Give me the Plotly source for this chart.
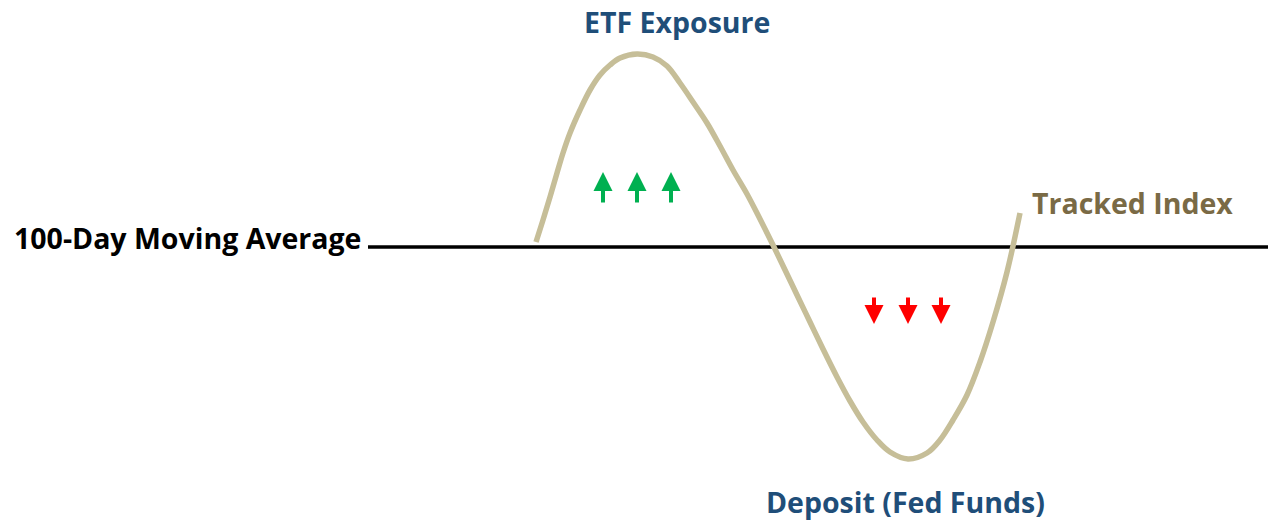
import plotly.graph_objects as go

# Curve (pixel-space coordinates: x to the right, y downward)
curve_x = [536, 543, 550, 557, 563, 570, 580, 590, 600, 610, 620, 637, 653, 667, 680, 693,
           707, 720, 733, 747, 760, 774, 786, 797, 810, 823, 837, 850, 863, 877, 890, 908,
           927, 940, 953, 967, 980, 993, 1007, 1020]
curve_y = [242, 220, 197, 173, 153, 133, 110, 90, 75, 65, 58, 54, 57, 66, 83, 102,
           123, 146, 170, 194, 219, 247, 272, 295, 322, 349, 377, 401, 422, 440, 452, 459,
           453, 440, 420, 395, 362, 322, 272, 213]

ma_x = [368, 1268]
ma_y = [247, 247]

up_arrow_x = [603, 637, 671]
up_tail_y = 204
up_tip_y = 172
down_arrow_x = [874, 908, 941]
down_tail_y = 296
down_tip_y = 324

labels = ["100-Day Moving Average", "ETF Exposure", "Tracked Index", "Deposit (Fed Funds)"]
label_x = [187, 677, 1132, 905]
label_y = [238, 22, 203, 502]
label_colors = ["#000000", "#1F4E79", "#7A6A45", "#1F4E79"]

FONT = "Open Sans"

fig = go.Figure()
fig.add_trace(go.Scatter(x=ma_x, y=ma_y, mode="lines",
                         line=dict(color="#000000", width=3.5), hoverinfo="skip"))
fig.add_trace(go.Scatter(x=curve_x, y=curve_y, mode="lines",
                         line=dict(color="#C6BE98", width=5.5, shape="spline", smoothing=1.0),
                         hoverinfo="skip"))

for xv in up_arrow_x:
    fig.add_annotation(x=xv, y=up_tip_y, ax=xv, ay=up_tail_y, xref="x", yref="y",
                       axref="x", ayref="y", text="", showarrow=True, arrowhead=2,
                       arrowsize=0.95, arrowwidth=4, arrowcolor="#00B050")
for xv in down_arrow_x:
    fig.add_annotation(x=xv, y=down_tip_y, ax=xv, ay=down_tail_y, xref="x", yref="y",
                       axref="x", ayref="y", text="", showarrow=True, arrowhead=2,
                       arrowsize=0.95, arrowwidth=4, arrowcolor="#FF0000")

for t, xv, yv, c in zip(labels, label_x, label_y, label_colors):
    fig.add_annotation(x=xv, y=yv, xref="x", yref="y", text=t, showarrow=False,
                       font=dict(family=FONT, size=28.5, color=c, weight="bold"),
                       xanchor="center", yanchor="middle")

fig.update_xaxes(range=[0, 1268], visible=False, fixedrange=True)
fig.update_yaxes(range=[521, 0], visible=False, fixedrange=True)
fig.update_layout(width=1268, height=521, margin=dict(l=0, r=0, t=0, b=0),
                  plot_bgcolor="white", paper_bgcolor="white", showlegend=False,
                  hovermode=False)

fig.write_html("out.html", config={"displayModeBar": False, "staticPlot": True},
               post_script="document.body.style.margin='0';document.body.style.overflow='hidden';")
